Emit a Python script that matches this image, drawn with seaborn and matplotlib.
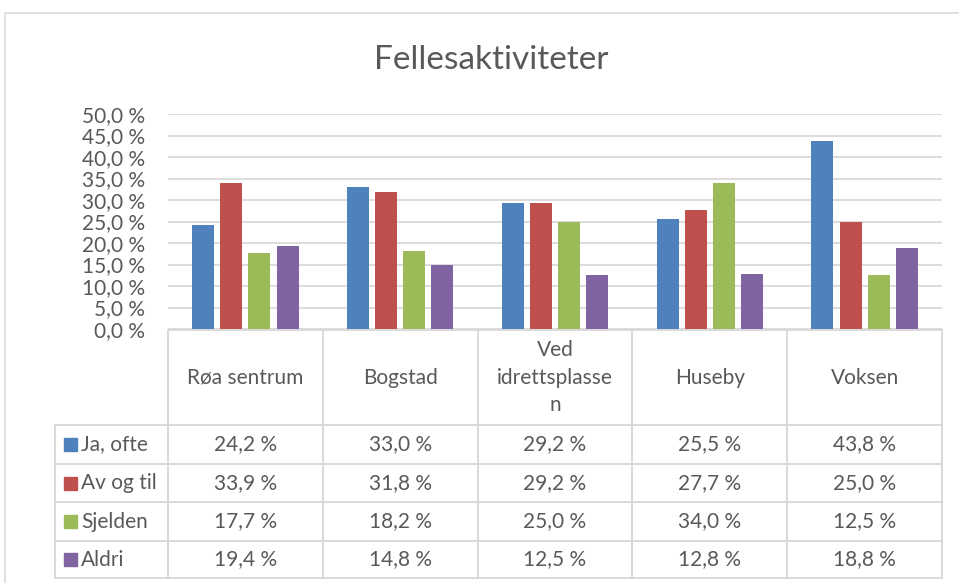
import matplotlib.pyplot as plt
import matplotlib.transforms as mtransforms
import seaborn as sns
import pandas as pd

categories = ['Røa sentrum', 'Bogstad', 'Ved\nidrettsplasse\nn', 'Huseby', 'Voksen']
series = ['Ja, ofte', 'Av og til', 'Sjelden', 'Aldri']
ja_ofte = [24.2, 33.0, 29.2, 25.5, 43.8]
av_og_til = [33.9, 31.8, 29.2, 27.7, 25.0]
sjelden = [17.7, 18.2, 25.0, 34.0, 12.5]
aldri = [19.4, 14.8, 12.5, 12.8, 18.8]
colors = ['#4F81BD', '#C0504D', '#9BBB59', '#8064A2']
yticks = [0, 5, 10, 15, 20, 25, 30, 35, 40, 45, 50]

values = [ja_ofte, av_og_til, sjelden, aldri]
df = pd.DataFrame([
    {'kategori': c, 'serie': s, 'andel': v[i] / 100}
    for s, v in zip(series, values)
    for i, c in enumerate(categories)
])

sns.set_theme(style='white')
plt.rcParams['font.family'] = ['Lato', 'DejaVu Sans']
txt = '#595959'
grid = '#D9D9D9'
fs = 15

W, H = 959, 583
fig = plt.figure(figsize=(W / 100, H / 100), dpi=100)

# overlay in pixel coordinates for frame and table
over = fig.add_axes([0, 0, 1, 1])
over.set_xlim(0, W)
over.set_ylim(H, 0)
over.axis('off')
over.add_patch(plt.Rectangle((5, 13), W + 10, H, fill=False, ec=grid, lw=1.2))

x0, x1 = 168, 942
y0, y1 = 329, 114
ax = fig.add_axes([x0 / W, (H - y0) / H, (x1 - x0) / W, (y0 - y1) / H])
sns.barplot(data=df, x='kategori', y='andel', hue='serie', hue_order=series,
            palette=colors, width=0.727, gap=0.22, saturation=1, ax=ax)
ax.legend_.remove()
ax.set_xlim(-0.5, len(categories) - 0.5)
ax.set_ylim(0, 0.5)
ax.set_yticks([t / 100 for t in yticks])
ax.set_yticklabels([f'{t:.1f}'.replace('.', ',') + ' %' for t in yticks], color=txt, fontsize=fs)
ax.tick_params(axis='y', length=0, pad=16.5)
ax.set_xticks([])
ax.set_xlabel('')
ax.set_ylabel('')
for s in ax.spines.values():
    s.set_visible(False)
ax.yaxis.grid(True, color=grid, lw=1.3)
ax.set_axisbelow(True)
for p in ax.patches:
    p.set_edgecolor('none')

fig.text(491 / W, 1 - 60 / H, 'Fellesaktiviteter', ha='center', va='center', fontsize=24, color=txt)

# data table
tr = mtransforms.blended_transform_factory(ax.transData, over.transData)
rows = [330, 425, 464, 502, 541, 578]
tl = 55
n = len(categories)
lw = 1.4
over.plot([x0, x1], [rows[0], rows[0]], color=grid, lw=lw)
for r in rows[1:]:
    over.plot([tl, x1], [r, r], color=grid, lw=lw)
over.plot([tl, tl], [rows[1], rows[-1]], color=grid, lw=lw)
for i in range(n + 1):
    over.plot([i - 0.5, i - 0.5], [rows[0], rows[-1]], color=grid, lw=lw, transform=tr)

for i, c in enumerate(categories):
    over.text(i, (rows[0] + rows[1]) / 2, c, ha='center', va='center', fontsize=fs,
              color=txt, linespacing=1.45, transform=tr)

for j, (s, v) in enumerate(zip(series, values)):
    yc = (rows[j + 1] + rows[j + 2]) / 2
    over.add_patch(plt.Rectangle((64, yc - 6.5), 13, 13, color=colors[j]))
    over.text(81, yc, s, ha='left', va='center', fontsize=fs, color=txt)
    for i in range(n):
        over.text(i, yc, f'{v[i]:.1f}'.replace('.', ',') + ' %', ha='center', va='center',
                  fontsize=fs, color=txt, transform=tr)

fig.savefig('out.png', dpi=100)
